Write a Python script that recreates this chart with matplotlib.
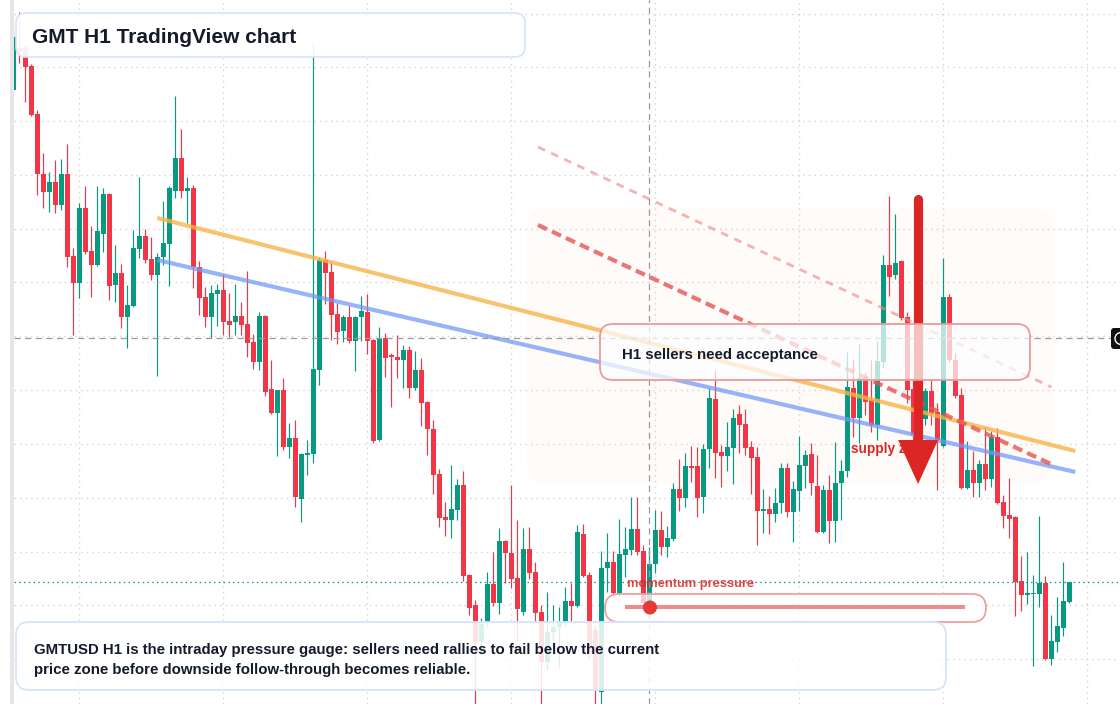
import numpy as np
import matplotlib
matplotlib.use("Agg")
import matplotlib.pyplot as plt
from matplotlib.patches import FancyBboxPatch, Rectangle, Polygon, Circle
from matplotlib.lines import Line2D
from matplotlib.transforms import IdentityTransform

plt.rcParams['font.family'] = ['Liberation Sans', 'DejaVu Sans']

# ---------------- data (prices in units of 0.0001 USD) ----------------
OPEN_T = [
    910, 952, 953, 934, 886, 826, 808, 818, 795, 826,
    744, 717, 792, 749, 735, 766, 806, 715, 727, 683,
    694, 751, 764, 741, 725, 743, 756, 809, 842, 809,
    812, 733, 703, 683, 706, 710, 679, 678, 684, 676,
    658, 638, 684, 611, 587, 610, 553, 562, 501, 545,
    546, 630, 740, 728, 686, 669, 683, 659, 683, 688,
    660, 560, 662, 645, 643, 640, 650, 612, 630, 598,
    571, 526, 483, 480, 490, 515, 425, 395, 358, 378,
    416, 397, 459, 447, 422, 388, 451, 428, 388, 338,
    368, 373, 378, 399, 394, 466, 425, 370, 308, 432,
    438, 407, 445, 450, 471, 449, 397, 436, 470, 453,
    461, 511, 502, 534, 534, 503, 551, 601, 548, 544,
    552, 586, 576, 553, 543, 489, 491, 486, 497, 532,
    488, 509, 534, 546, 514, 468, 510, 479, 517, 529,
    612, 582, 623, 600, 575, 638, 735, 725, 739, 683,
    611, 565, 581, 609, 588, 554, 703, 640, 605, 512,
    530, 517, 536, 521, 563, 498, 485, 483, 419, 405,
    406, 406, 417, 341, 358, 372, 398]
HIGH_T = [
    970, 988, 955, 936, 890, 847, 828, 840, 841, 856,
    752, 797, 814, 774, 814, 812, 807, 755, 736, 715,
    770, 823, 771, 763, 747, 799, 814, 904, 871, 823,
    815, 739, 713, 715, 716, 726, 707, 716, 698, 729,
    666, 688, 685, 640, 610, 622, 577, 580, 547, 560,
    957, 743, 749, 738, 697, 685, 694, 684, 704, 706,
    661, 673, 667, 647, 665, 655, 654, 649, 642, 599,
    580, 531, 498, 535, 521, 529, 426, 400, 382, 428,
    448, 472, 460, 515, 480, 472, 473, 438, 395, 408,
    395, 393, 413, 417, 475, 476, 428, 375, 449, 467,
    449, 481, 473, 503, 503, 455, 453, 490, 489, 474,
    517, 541, 547, 554, 553, 556, 612, 630, 555, 578,
    591, 595, 591, 559, 553, 511, 504, 512, 537, 537,
    519, 564, 550, 557, 545, 515, 525, 558, 540, 648,
    641, 656, 628, 640, 659, 745, 804, 786, 740, 688,
    620, 600, 612, 620, 597, 742, 706, 647, 612, 559,
    549, 540, 573, 569, 572, 505, 522, 484, 444, 448,
    425, 484, 424, 385, 403, 438, 418]
LOW_T = [
    909, 937, 898, 884, 805, 792, 788, 787, 790, 733,
    665, 702, 746, 703, 734, 748, 700, 698, 672, 652,
    693, 742, 737, 720, 624, 735, 714, 802, 802, 777,
    712, 685, 673, 662, 674, 665, 663, 665, 665, 643,
    631, 630, 604, 586, 544, 550, 542, 493, 478, 525,
    537, 615, 696, 660, 656, 658, 657, 629, 659, 646,
    557, 559, 623, 593, 622, 612, 602, 610, 574, 545,
    506, 473, 464, 462, 480, 419, 385, 294, 345, 373,
    394, 386, 417, 412, 360, 385, 421, 378, 294, 330,
    347, 332, 374, 377, 393, 423, 342, 294, 294, 408,
    404, 404, 423, 445, 445, 394, 394, 427, 445, 443,
    459, 489, 493, 518, 483, 487, 532, 522, 513, 529,
    516, 547, 545, 506, 455, 467, 466, 478, 487, 483,
    458, 489, 512, 505, 467, 467, 457, 458, 480, 523,
    563, 557, 585, 568, 560, 632, 704, 721, 680, 597,
    560, 555, 575, 575, 510, 553, 638, 602, 511, 511,
    503, 503, 510, 513, 496, 472, 462, 384, 389, 396,
    334, 393, 340, 335, 348, 364, 397]
CLOSE_T = [
    963, 948, 933, 885, 826, 808, 818, 795, 826, 743,
    717, 792, 748, 735, 769, 806, 714, 727, 683, 695,
    752, 764, 740, 725, 743, 757, 812, 842, 809, 812,
    733, 702, 683, 707, 710, 678, 675, 684, 675, 657,
    638, 684, 608, 587, 610, 553, 562, 503, 546, 547,
    631, 740, 727, 685, 668, 683, 659, 683, 689, 659,
    559, 661, 642, 643, 640, 650, 612, 630, 597, 571,
    525, 482, 480, 491, 515, 424, 392, 358, 376, 416,
    397, 459, 447, 421, 391, 451, 427, 387, 338, 368,
    373, 378, 399, 394, 468, 424, 347, 310, 432, 438,
    407, 446, 451, 471, 448, 397, 436, 470, 453, 462,
    511, 502, 534, 532, 502, 551, 602, 547, 544, 553,
    582, 575, 552, 542, 489, 491, 486, 497, 532, 488,
    511, 535, 545, 517, 468, 510, 479, 517, 529, 613,
    582, 622, 598, 575, 639, 735, 723, 737, 682, 610,
    565, 581, 609, 586, 560, 703, 640, 604, 512, 530,
    517, 536, 521, 563, 497, 484, 481, 418, 405, 407,
    407, 417, 341, 359, 374, 399, 418]

TICK = 0.0001
OPEN = np.array(OPEN_T) * TICK
HIGH = np.array(HIGH_T) * TICK
LOW = np.array(LOW_T) * TICK
CLOSE = np.array(CLOSE_T) * TICK

# trend / annotation lines (bar index, price)
ORANGE_X, ORANGE_Y = [24, 177], [0.0782, 0.0549]
BLUE_X, BLUE_Y = [24, 177], [0.0740, 0.0528]
RED_DASH_X, RED_DASH_Y = [87.45, 173.3], [0.0775, 0.0535]
PINK_DASH_X, PINK_DASH_Y = [87.45, 173.0], [0.0853, 0.0613]
ARROW_X, ARROW_TOP, ARROW_TIP = 150.8, 0.0801, 0.0516
CROSS_INDEX, CROSS_PRICE = 105.95, 0.0662
LAST_PRICE = CLOSE[-1]

TITLE = "GMT H1 TradingView chart"
NOTE_1 = "GMTUSD H1 is the intraday pressure gauge: sellers need rallies to fail below the current"
NOTE_2 = "price zone before downside follow-through becomes reliable."
BOX_LABEL = "H1 sellers need acceptance"
ZONE_LABEL = "supply zone"
GAUGE_LABEL = "momentum pressure"

UP, DOWN = "#089981", "#f23645"
TXT = "#131a2a"

# ---------------- figure ----------------
W, H = 1120, 704
DPI = 100
fig = plt.figure(figsize=(W / DPI, H / DPI), dpi=DPI)
fig.patch.set_facecolor("white")
PX = IdentityTransform()


def yp(y):
    return H - y


ax = fig.add_axes([14 / W, 0, 1 - 14 / W, 1])
ax.patch.set_visible(False)
ax.set_xlim(0.1167, 184.45)
ax.set_ylim(0.0296, 0.1000)
ax.set_axis_off()

# supply zone background
fig.add_artist(FancyBboxPatch((527, yp(484)), 526, 277,
                              boxstyle="round,pad=0,rounding_size=22",
                              transform=PX, fc="#fefbf9", ec="none", zorder=-1))

# grid
for gx in np.arange(10.95, 185, 24):
    ax.axvline(gx, color="#d3d3d3", lw=1.0, ls=(0, (1, 3)), zorder=1)
for k in range(13):
    ax.axhline(0.09865 - 0.00538 * k, color="#d3d3d3", lw=1.0, ls=(0, (1, 3)), zorder=1)

# candles
idx = np.arange(len(OPEN))
up = CLOSE >= OPEN
cols = np.where(up, UP, DOWN)
ax.vlines(idx, LOW, HIGH, colors=cols, lw=0.85, zorder=3)
body_bot = np.minimum(OPEN, CLOSE)
body_h = np.maximum(np.abs(CLOSE - OPEN), 0.00012)
ax.bar(idx, body_h, bottom=body_bot, width=0.8, color=cols, lw=0, zorder=4)

# trend lines
ax.plot(ORANGE_X, ORANGE_Y, color="#f7b44a", lw=3.0, alpha=0.8, zorder=5, solid_capstyle="butt")
ax.plot(BLUE_X, BLUE_Y, color="#7096f5", lw=3.0, alpha=0.72, zorder=5, solid_capstyle="butt")
ax.plot(PINK_DASH_X, PINK_DASH_Y, color="#f08a8a", lw=2.0, alpha=0.65, zorder=5,
        dashes=(2.8, 2.4))
ax.plot(RED_DASH_X, RED_DASH_Y, color="#e55353", lw=3.0, alpha=0.8, zorder=5,
        dashes=(2.4, 1.3))

# current price line and crosshair
ax.axhline(LAST_PRICE, color=UP, lw=0.9, ls=(0, (1.2, 2.6)), zorder=6)
ax.axhline(CROSS_PRICE, color="#9a9a9a", lw=0.9, ls=(0, (5, 3.5)), zorder=6)
ax.axvline(CROSS_INDEX, color="#9a9a9a", lw=0.9, ls=(0, (5, 3.5)), zorder=6)

# supply zone label & arrow
ax.text(139.6, 0.0547, ZONE_LABEL, color="#dc2626", fontsize=9.8, fontweight="bold",
        va="baseline", ha="left", zorder=7)
ax.plot([ARROW_X, ARROW_X], [ARROW_TOP, 0.0556], color="#dc2626", lw=6.6,
        solid_capstyle="round", zorder=8)
ax.add_patch(Polygon([(ARROW_X - 3.33, 0.0560), (ARROW_X + 3.33, 0.0560), (ARROW_X, ARROW_TIP)],
                     closed=True, fc="#dc2626", ec="none", zorder=8))

# left strip
fig.add_artist(Rectangle((10, 0), 4, H, transform=PX, fc="#e6e6e6", ec="none", zorder=5))

# right price label stub
fig.add_artist(FancyBboxPatch((1111, yp(349)), 20, 21, boxstyle="round,pad=0,rounding_size=3",
                              transform=PX, fc="#111111", ec="none", zorder=9))
fig.add_artist(Circle((1121, yp(338.5)), 6, transform=PX, fc="none", ec="white", lw=1.0, zorder=9))

# title box
fig.add_artist(FancyBboxPatch((16, yp(57)), 509, 44, boxstyle="round,pad=0,rounding_size=10",
                              transform=PX, fc=(1, 1, 1, 0.92), ec="#d6e4fa", lw=1.2, zorder=10))
fig.text(32, yp(43), TITLE, transform=PX, fontsize=15, fontweight="bold", color=TXT,
         va="baseline", ha="left", zorder=11)

# acceptance box
fig.add_artist(FancyBboxPatch((600, yp(380)), 430, 56, boxstyle="round,pad=0,rounding_size=13",
                              transform=PX, fc=(1, 1, 1, 0.72), ec="#eb9a9a", lw=1.3, zorder=10))
fig.text(622, yp(359), BOX_LABEL, transform=PX, fontsize=10.8, fontweight="bold", color=TXT,
         va="baseline", ha="left", zorder=11)

# momentum gauge
fig.text(627, yp(587), GAUGE_LABEL, transform=PX, fontsize=9.3, fontweight="bold",
         color="#dc2626", alpha=0.85, va="baseline", ha="left", zorder=11)
fig.add_artist(FancyBboxPatch((605, yp(622)), 381, 28, boxstyle="round,pad=0,rounding_size=14",
                              transform=PX, fc=(1, 1, 1, 0.75), ec="#f0a0a0", lw=1.3, zorder=10))
fig.add_artist(Line2D([627, 963], [yp(607), yp(607)], transform=PX, color="#ee8080",
                      lw=2.9, alpha=0.9, zorder=11))
fig.add_artist(Circle((650, yp(607.5)), 7, transform=PX, fc="#e53935", ec="none", zorder=12))

# note box
fig.add_artist(FancyBboxPatch((16, yp(690)), 930, 68, boxstyle="round,pad=0,rounding_size=13",
                              transform=PX, fc=(1, 1, 1, 0.86), ec="#d6e4fa", lw=1.3, zorder=10))
fig.text(34, yp(654), NOTE_1, transform=PX, fontsize=10.8, fontweight="bold", color=TXT,
         va="baseline", ha="left", zorder=11)
fig.text(34, yp(674), NOTE_2, transform=PX, fontsize=10.8, fontweight="bold", color=TXT,
         va="baseline", ha="left", zorder=11)

fig.savefig("out.png", dpi=DPI, facecolor="white")
